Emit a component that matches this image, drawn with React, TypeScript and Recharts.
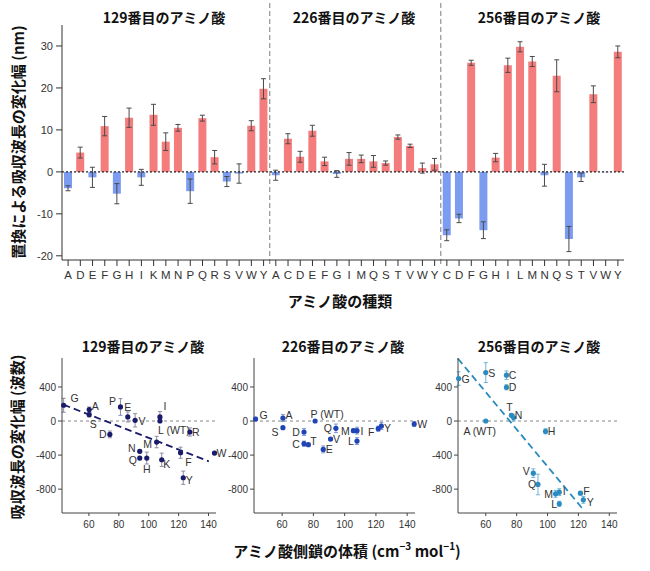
import React from "react";
import {
  BarChart,
  Bar,
  XAxis,
  YAxis,
  Cell,
  ErrorBar,
  ReferenceLine,
  ScatterChart,
  Scatter,
} from "recharts";

const FONT = '"Liberation Sans", "Noto Sans CJK JP", sans-serif';
const JP = '"Noto Sans CJK JP", "Liberation Sans", sans-serif';

// ---- top: shift of absorption max per substitution (nm) ----
const POS129_AA = ["A", "D", "E", "F", "G", "H", "I", "K", "M", "N", "P", "Q", "R", "S", "V", "W", "Y"];
const POS129_SHIFT = [-3.9, 4.6, -1.3, 10.9, -5.2, 12.9, -1.3, 13.6, 7.2, 10.5, -4.6, 12.8, 3.5, -2.3, -0.4, 11.0, 19.8];
const POS129_ERR = [0.6, 1.3, 2.4, 2.3, 2.4, 2.3, 1.9, 2.5, 2.1, 0.8, 2.9, 0.7, 1.6, 1.2, 2.3, 1.2, 2.4];

const POS226_AA = ["A", "C", "D", "E", "F", "G", "I", "M", "Q", "S", "T", "V", "W", "Y"];
const POS226_SHIFT = [-0.8, 7.9, 3.6, 9.8, 2.5, -0.5, 3.1, 3.1, 2.5, 2.1, 8.3, 6.2, 0.9, 1.8];
const POS226_ERR = [1.2, 1.2, 1.3, 1.3, 1.0, 0.8, 1.5, 0.9, 1.4, 0.5, 0.5, 0.4, 1.2, 1.4];

const POS256_AA = ["C", "D", "F", "G", "H", "I", "L", "M", "N", "Q", "S", "T", "V", "W", "Y"];
const POS256_SHIFT = [-15.1, -11.1, 26.0, -13.9, 3.4, 25.4, 29.8, 26.3, -0.8, 22.9, -16.0, -1.3, 18.5, -0.1, 28.6];
const POS256_ERR = [1.3, 1.0, 0.6, 2.0, 1.0, 1.7, 1.2, 1.2, 2.6, 3.8, 3.0, 1.0, 2.0, 0, 1.4];

const NM_TICKS = [-20, -10, 0, 10, 20, 30];

// ---- bottom: shift (wavenumber) vs side-chain volume ----
const VOL129_AA = ["G", "A", "S", "D", "P", "E", "V", "N", "Q", "H", "M", "I", "L (WT)", "K", "F", "R", "Y", "W"];
const VOL129_X = [43.1, 60.2, 60.2, 74, 81.1, 86, 90.9, 94, 94, 98.7, 105.3, 107.5, 107.5, 108.7, 121.3, 127.5, 123.1, 144];
const VOL129_Y = [185, 134, 75, -157, 165, 48, 8, -356, -435, -435, -247, 48, 0, -455, -372, -129, -666, -376];
const VOL129_ERR = [82, 30, 26, 40, 98, 59, 78, 20, 20, 70, 67, 63, 0, 78, 65, 48, 78, 20];

const VOL226_AA = ["G", "A", "S", "D", "C", "T", "P (WT)", "E", "V", "Q", "M", "I", "L", "F", "Y", "W"];
const VOL226_X = [43, 60.5, 60.5, 74, 74, 76.8, 81.1, 86.3, 91, 94.4, 105.6, 107.9, 107.9, 121.5, 123.5, 144.5];
const VOL226_Y = [24, 35, -78, -129, -266, -278, 0, -333, -212, -86, -113, -113, -235, -90, -59, -35];
const VOL226_ERR = [20, 40, 15, 40, 30, 15, 0, 40, 15, 50, 20, 40, 40, 30, 40, 30];

const VOL256_AA = ["G", "S", "C", "D", "T", "N", "A (WT)", "H", "V", "Q", "M", "I", "L", "F", "Y"];
const VOL256_X = [42.4, 60, 73.4, 73.4, 76.6, 78, 60, 98.7, 90.8, 93.8, 105.2, 107.6, 107.6, 121.3, 123.2];
const VOL256_Y = [499, 569, 538, 396, 67, 40, 0, -121, -612, -745, -855, -835, -972, -847, -925];
const VOL256_ERR = [80, 117, 50, 30, 20, 40, 0, 30, 50, 121, 40, 40, 30, 20, 40];

// linear fits drawn in the reference (end points)
const FIT129 = [{ x: 43, y: 192 }, { x: 140.2, y: -474 }];
const FIT256 = [{ x: 41.9, y: 734 }, { x: 122.4, y: -1023 }];

const VOL_TICKS = [60, 80, 100, 120, 140];
const WN_TICKS = [-800, -400, 0, 400];

// label placement around each point (dx, dy from the dot centre)
const OFF129: Record<string, [number, number]> = {
  G: [11, -7], A: [6, -4], S: [4, 9], D: [-7, 0], P: [-8, -6], E: [0, -10], V: [7, 1],
  N: [-8, -3], Q: [-7, 2], H: [0, 11], M: [-9, 2], I: [5, -11], "L (WT)": [14, 9],
  K: [5, 4], F: [8, 9], R: [6, 0], Y: [6, 2], W: [7, 0],
};
const OFF226: Record<string, [number, number]> = {
  G: [8, -4], A: [6, -3], S: [-8, 4], D: [-8, 0], C: [-8, 0], T: [5, -4], "P (WT)": [12, -7],
  E: [6, 0], V: [6, 0], Q: [-8, 0], M: [-8, 0], I: [5, 0], L: [-6, 0], F: [-7, 3], Y: [6, 2], W: [8, 0],
};
const OFF256: Record<string, [number, number]> = {
  G: [7, 0], S: [6, 0], C: [6, 0], D: [6, 0], T: [-2, -8], N: [5, -3], "A (WT)": [-6, 10],
  H: [6, 0], V: [-7, -2], Q: [-6, 0], M: [-7, 0], I: [5, -1], L: [-5, 0], F: [6, -2], Y: [7, 2],
};

const RED = "#f47c7c";
const BLUE = "#7c9cf2";

const barRows = [
  ...POS129_AA.map((aa, i) => ({ id: `129-${aa}`, shift: POS129_SHIFT[i], err: POS129_ERR[i] })),
  ...POS226_AA.map((aa, i) => ({ id: `226-${aa}`, shift: POS226_SHIFT[i], err: POS226_ERR[i] })),
  ...POS256_AA.map((aa, i) => ({ id: `256-${aa}`, shift: POS256_SHIFT[i], err: POS256_ERR[i] })),
];

const toPoints = (names: string[], xs: number[], ys: number[], errs: number[]) =>
  names.map((name, i) => ({ name, x: xs[i], y: ys[i], err: errs[i] }));

// divider line that runs up past the plot top, like the figure
const Divider = (p: any) => {
  const top = Math.min(p.y1, p.y2);
  const bottom = Math.max(p.y1, p.y2);
  return (
    <line x1={p.x1} x2={p.x2} y1={top - 22} y2={bottom + 4} stroke="#9a9a9a" strokeWidth={1.3} strokeDasharray="5 3" />
  );
};

const dotWithLabel = (color: string, offsets: Record<string, [number, number]>) => (p: any) => {
  const [dx, dy] = offsets[p.payload.name] ?? [7, 0];
  return (
    <g>
      <circle cx={p.cx} cy={p.cy} r={2.6} fill={color} />
      <text
        x={p.cx + dx}
        y={p.cy + dy}
        textAnchor="middle"
        dominantBaseline="central"
        fontSize={10.5}
        fill="#333"
        fontFamily={FONT}
      >
        {p.payload.name}
      </text>
    </g>
  );
};

interface PanelProps {
  left: number;
  plotWidth: number;
  data: { name: string; x: number; y: number; err: number }[];
  dot: string;
  errColor: string;
  offsets: Record<string, [number, number]>;
  fit?: { x: number; y: number }[];
  fitColor?: string;
}

function VolumePanel({ left, plotWidth, data, dot, errColor, offsets, fit, fitColor }: PanelProps) {
  return (
    <div style={{ position: "absolute", left, top: 330 }}>
      <ScatterChart width={62 + plotWidth + 14} height={208} margin={{ top: 28, right: 14, bottom: 0, left: 0 }}>
        <XAxis
          type="number"
          dataKey="x"
          domain={[42, 145]}
          ticks={VOL_TICKS}
          height={25}
          stroke="#444"
          tickSize={3}
          tickMargin={5}
          tick={{ fontSize: 10, fill: "#333", fontFamily: FONT }}
        />
        <YAxis
          type="number"
          dataKey="y"
          domain={[-1080, 740]}
          ticks={WN_TICKS}
          width={62}
          stroke="#444"
          tickSize={4}
          tickMargin={2}
          tick={{ fontSize: 10, fill: "#333", fontFamily: FONT }}
        />
        <ReferenceLine y={0} stroke="#888" strokeDasharray="3 3" />
        {fit && (
          <ReferenceLine
            segment={fit}
            stroke={fitColor}
            strokeWidth={1.8}
            strokeDasharray="7 4"
            ifOverflow="visible"
          />
        )}
        <Scatter data={data} isAnimationActive={false} shape={dotWithLabel(dot, offsets)}>
          <ErrorBar dataKey="err" direction="y" width={2} stroke={errColor} strokeWidth={1} />
        </Scatter>
      </ScatterChart>
    </div>
  );
}

export default function App() {
  return (
    <div style={{ position: "relative", width: 650, height: 571, background: "#fff", fontFamily: FONT }}>
      <style>{"body{margin:0}"}</style>

      <div style={{ position: "absolute", left: 0, top: 0 }}>
        <BarChart width={650} height={290} data={barRows} margin={{ top: 25, right: 26, bottom: 0, left: 0 }}>
          <XAxis
            dataKey="id"
            interval={0}
            height={30}
            stroke="#333"
            tickSize={6}
            tickMargin={5}
            tickFormatter={(v: string) => v.split("-")[1]}
            tick={{ fontSize: 11.5, fill: "#333", fontFamily: FONT }}
          />
          <YAxis
            domain={[-21, 35]}
            ticks={NM_TICKS}
            allowDataOverflow
            width={62}
            stroke="#333"
            tickSize={6}
            tickMargin={3}
            tick={{ fontSize: 11, fill: "#333", fontFamily: FONT }}
          />
          <ReferenceLine x="129-Y" position="end" shape={Divider} ifOverflow="visible" />
          <ReferenceLine x="226-Y" position="end" shape={Divider} ifOverflow="visible" />
          <Bar dataKey="shift" barSize={8} isAnimationActive={false}>
            {barRows.map((r) => (
              <Cell key={r.id} fill={r.shift >= 0 ? RED : BLUE} />
            ))}
            <ErrorBar dataKey="err" width={2.5} stroke="#4a4a4a" strokeWidth={1} />
          </Bar>
          <ReferenceLine y={0} stroke="#222" strokeDasharray="2 2" strokeWidth={1.2} />
        </BarChart>
      </div>

      <VolumePanel
        left={0}
        plotWidth={154}
        data={toPoints(VOL129_AA, VOL129_X, VOL129_Y, VOL129_ERR)}
        dot="#1b1b6b"
        errColor="#8c8ca6"
        offsets={OFF129}
        fit={FIT129}
        fitColor="#1b1b6b"
      />
      <VolumePanel
        left={192}
        plotWidth={161}
        data={toPoints(VOL226_AA, VOL226_X, VOL226_Y, VOL226_ERR)}
        dot="#1f45b5"
        errColor="#7f95d5"
        offsets={OFF226}
      />
      <VolumePanel
        left={396}
        plotWidth={159}
        data={toPoints(VOL256_AA, VOL256_X, VOL256_Y, VOL256_ERR)}
        dot="#2a8bc0"
        errColor="#6fb3da"
        offsets={OFF256}
        fit={FIT256}
        fitColor="#2a8bbd"
      />

      <svg
        width={650}
        height={571}
        style={{ position: "absolute", left: 0, top: 0, pointerEvents: "none" }}
        fontFamily={JP}
        fontWeight="bold"
        fill="#111"
      >
        <text x={164} y={17} textAnchor="middle" dominantBaseline="central" fontSize={14}>129番目のアミノ酸</text>
        <text x={354} y={17} textAnchor="middle" dominantBaseline="central" fontSize={14}>226番目のアミノ酸</text>
        <text x={539} y={17} textAnchor="middle" dominantBaseline="central" fontSize={14}>256番目のアミノ酸</text>
        <text x={17} y={142} textAnchor="middle" dominantBaseline="central" fontSize={15} transform="rotate(-90 17 142)">
          置換による吸収波長の変化幅 (nm)
        </text>
        <text x={340} y={300} textAnchor="middle" dominantBaseline="central" fontSize={15}>アミノ酸の種類</text>

        <text x={143} y={346} textAnchor="middle" dominantBaseline="central" fontSize={14}>129番目のアミノ酸</text>
        <text x={343} y={346} textAnchor="middle" dominantBaseline="central" fontSize={14}>226番目のアミノ酸</text>
        <text x={539} y={346} textAnchor="middle" dominantBaseline="central" fontSize={14}>256番目のアミノ酸</text>
        <text x={16} y={437} textAnchor="middle" dominantBaseline="central" fontSize={15} transform="rotate(-90 16 437)">
          吸収波長の変化幅 (波数)
        </text>
        <text x={347} y={550} textAnchor="middle" dominantBaseline="central" fontSize={15}>
          アミノ酸側鎖の体積 (cm<tspan dy={-5} fontSize={10}>−3</tspan>
          <tspan dy={5}> mol</tspan>
          <tspan dy={-5} fontSize={10}>−1</tspan>
          <tspan dy={5}>)</tspan>
        </text>
      </svg>
    </div>
  );
}
